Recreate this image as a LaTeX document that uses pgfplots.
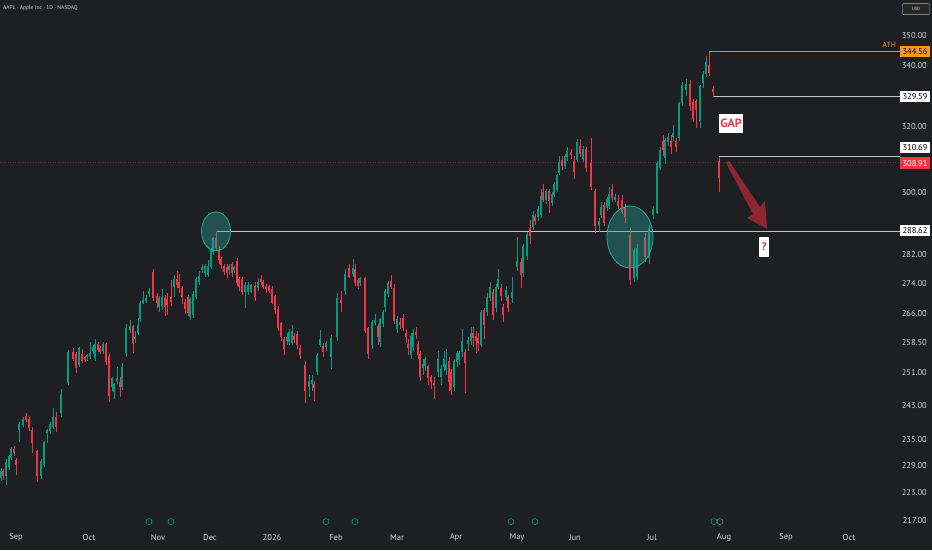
\documentclass[border=0pt]{standalone}
\usepackage{pgfplots}
\pgfplotsset{compat=1.18}
\usepackage{pgfplotstable}
\usetikzlibrary{arrows.meta}
\usepackage{fontspec}
\setmainfont{PT Sans}
\definecolor{bgc}{HTML}{1E1F23}
\definecolor{up}{HTML}{089981}
\definecolor{dn}{HTML}{F23645}
\definecolor{txt}{HTML}{D1D4DC}
\definecolor{lvl}{HTML}{C4C4C4}
\definecolor{athc}{HTML}{F0891C}
\definecolor{athbox}{HTML}{F79A1E}
\definecolor{arrc}{HTML}{962832}
\definecolor{tealc}{HTML}{26A69A}
\definecolor{pline}{HTML}{6A2A33}

\pgfplotstableread{
x o h l c
1 226.3 228.5 225.5 227.6
3 227.4 228.2 225.8 226.6
6 226.6 230.4 224.7 229.6
9 228.7 231.5 228.0 230.8
11 230.8 233.3 230.2 232.6
14 232.6 233.5 231.2 231.9
16 230.0 230.8 226.9 229.2
19 237.2 239.0 234.4 238.4
23 238.4 240.2 237.8 239.6
26 240.1 241.2 239.0 239.6
29 239.4 240.2 237.0 237.7
32 237.0 238.0 231.8 234.2
37 232.1 232.6 225.4 226.6
41 226.6 230.4 226.0 229.8
44 229.1 234.6 228.8 234.2
47 236.5 237.5 234.2 237.0
50 236.9 239.0 236.2 238.2
53 238.0 242.5 237.5 240.0
56 240.0 241.5 236.8 237.8
61 241.2 247.0 240.2 245.6
68 248.4 256.6 248.0 256.0
73 256.0 257.3 253.8 254.5
76 255.5 256.3 251.0 252.2
79 253.0 257.5 252.5 257.0
82 255.5 257.0 253.3 254.0
85 254.7 255.2 253.7 254.2
87 254.8 255.8 254.0 255.1
90 255.0 258.8 254.5 255.6
93 256.4 258.0 255.6 257.2
95 254.6 259.5 254.0 258.0
98 257.8 258.8 256.2 256.8
100 257.0 257.8 255.6 256.3
103 256.4 258.8 255.8 258.0
106 257.8 258.5 253.0 253.7
109 254.9 255.8 243.9 245.3
112 247.4 250.0 246.5 249.4
114 246.3 248.5 244.5 247.9
117 249.0 252.5 248.2 249.4
120 248.4 250.0 245.0 247.6
122 247.6 253.5 246.8 252.2
126 255.9 263.5 255.0 262.1
130 261.8 264.5 261.0 262.6
133 262.6 263.2 256.0 258.6
135 259.5 261.5 258.5 259.8
138 261.1 265.0 260.5 262.9
140 264.7 269.5 264.0 268.6
143 269.0 272.0 268.5 269.3
146 269.3 271.0 268.8 269.8
149 271.4 273.0 270.5 271.9
153 277.0 278.0 269.5 270.2
157 270.5 271.5 267.5 268.9
159 267.9 270.8 266.5 270.0
162 268.0 272.5 267.0 270.2
165 270.0 271.0 265.5 267.9
167 269.7 271.5 265.8 268.4
171 270.2 275.0 268.0 269.2
174 273.2 276.5 270.5 275.1
177 275.1 277.5 272.8 273.7
179 274.3 276.8 271.5 272.9
182 272.7 273.5 268.5 270.5
185 268.9 270.0 266.0 267.3
188 270.2 271.0 265.5 266.3
190 265.3 270.5 264.5 269.7
193 265.8 272.0 265.0 271.0
196 270.5 276.0 270.0 275.1
199 274.6 277.5 273.8 275.9
202 277.8 279.5 277.0 278.3
205 277.0 279.5 276.0 278.6
208 276.5 280.5 276.0 278.6
211 278.6 284.0 278.0 283.3
213 282.7 287.0 282.0 286.5
216 286.5 288.6 283.0 284.0
219 283.3 284.5 279.5 280.6
221 280.6 281.5 278.0 279.2
224 278.6 279.5 276.5 277.3
227 278.3 279.5 275.5 277.0
229 277.8 279.5 276.5 278.6
232 279.2 280.0 276.0 277.0
234 277.8 279.0 277.0 278.3
237 280.0 281.0 273.5 274.3
239 275.1 276.0 272.0 273.2
242 275.1 276.0 271.0 271.9
245 271.9 274.5 267.5 273.5
248 271.9 274.5 271.0 273.5
251 271.9 274.0 271.5 273.5
255 273.2 274.5 269.5 270.5
258 272.9 275.5 272.0 274.3
261 275.1 276.5 273.8 274.6
263 274.3 275.0 272.5 273.2
266 273.2 274.0 271.5 272.7
269 273.2 273.8 271.5 272.1
272 272.4 273.5 268.5 269.0
275 270.5 271.0 266.0 267.1
278 267.1 268.0 261.5 262.3
281 263.4 264.0 259.0 260.0
284 259.3 260.0 255.5 256.9
287 259.0 261.0 258.0 259.8
289 258.8 262.0 258.0 261.0
292 258.6 263.0 258.0 261.3
294 260.0 261.0 258.5 259.3
297 260.5 261.5 257.0 258.0
300 256.9 258.0 254.5 255.5
305 252.7 254.0 243.6 246.5
309 247.5 250.5 245.0 248.7
312 248.2 250.5 246.5 249.0
314 248.0 249.0 244.0 247.3
317 251.2 256.0 250.5 255.2
320 258.0 261.8 257.5 259.3
323 257.4 258.5 255.0 256.2
326 257.4 259.0 256.5 258.3
331 255.0 260.5 252.0 259.5
337 260.0 271.5 259.0 270.0
341 269.4 272.0 266.5 268.9
345 272.1 278.0 271.0 276.4
349 278.1 279.5 275.5 276.0
353 276.6 280.8 276.0 278.1
355 277.8 279.5 273.5 274.3
358 274.8 275.5 272.5 273.5
360 274.3 276.0 273.5 275.3
365 275.3 276.0 261.0 261.5
368 262.1 262.5 254.5 255.7
372 258.0 264.5 257.0 263.7
375 263.7 266.0 263.0 264.2
378 262.6 263.5 258.0 260.0
380 258.8 265.0 257.5 264.4
383 263.4 267.0 262.5 266.1
385 267.9 272.5 266.5 271.9
388 271.4 274.8 270.5 274.0
391 274.6 276.5 272.5 273.2
394 272.7 274.0 263.5 264.2
397 262.1 265.5 261.0 264.4
400 263.7 265.0 262.0 263.2
403 264.7 266.0 261.5 262.3
406 260.8 262.0 258.5 260.0
408 258.0 259.5 255.5 257.2
411 255.5 261.0 254.5 260.0
413 257.4 262.0 256.5 260.8
416 261.0 262.5 259.5 260.5
418 258.0 259.0 254.5 255.5
420 255.5 256.5 249.0 250.0
423 252.2 254.5 250.5 252.9
425 252.7 255.0 251.5 254.2
428 252.4 253.0 248.0 249.7
431 249.7 250.5 247.0 248.7
434 248.1 250.0 244.5 247.9
438 251.2 256.5 250.0 254.2
441 250.0 253.0 248.0 251.7
444 252.4 256.5 251.5 254.2
446 251.7 257.0 250.5 252.9
449 253.7 255.0 246.5 248.7
451 251.0 252.0 245.5 246.8
454 247.5 254.5 246.5 253.7
457 253.7 256.5 252.5 255.7
459 254.2 256.5 253.0 255.7
462 256.2 262.0 255.0 258.8
465 255.9 257.0 246.1 253.5
468 258.3 260.0 256.5 259.0
471 259.0 262.5 258.0 260.8
473 260.8 262.5 257.5 259.8
476 260.0 261.5 256.0 259.0
478 259.5 261.0 256.5 258.6
481 258.0 267.0 257.5 266.3
484 266.6 267.5 259.5 263.1
487 266.6 271.5 265.5 270.2
490 270.2 274.5 269.5 272.9
493 271.6 272.5 264.5 265.8
496 267.6 274.0 266.5 272.9
498 273.2 278.0 272.5 275.1
501 272.7 274.0 269.5 270.8
503 267.6 268.5 264.0 265.8
506 270.5 273.5 269.5 272.1
508 270.2 271.0 266.5 267.6
512 270.2 275.9 269.0 271.4
517 278.6 287.0 277.5 280.0
521 279.7 281.0 273.0 276.4
523 277.0 285.0 276.0 284.1
527 281.7 288.5 280.5 287.6
530 289.3 291.9 285.0 287.3
533 289.9 294.5 289.0 293.0
535 292.7 293.5 290.5 291.6
538 292.7 296.0 291.5 294.8
541 293.4 301.0 292.5 298.6
543 299.8 302.5 297.0 297.7
546 297.7 301.0 296.5 300.1
549 300.1 301.0 294.0 297.4
552 296.8 300.0 296.0 299.2
554 299.2 303.0 298.5 302.1
557 300.6 305.5 300.0 304.8
559 305.7 311.0 305.0 308.7
562 309.4 311.0 306.5 307.9
565 307.9 311.5 307.0 310.6
567 310.6 313.5 309.5 312.2
571 311.9 313.0 310.0 311.3
574 309.1 311.0 304.0 306.0
577 309.7 316.0 309.0 314.8
580 313.6 316.0 310.5 311.5
583 310.0 314.0 309.0 312.7
586 312.7 313.5 306.0 307.2
591 308.4 316.4 300.5 301.5
595 300.0 301.0 288.0 290.2
599 290.4 292.5 288.5 291.3
601 293.4 297.0 292.5 295.4
604 296.0 297.0 290.0 291.0
607 295.4 298.5 294.5 297.7
609 296.0 301.5 295.0 299.2
612 300.6 302.5 297.0 298.3
615 297.7 299.5 297.0 298.3
618 297.1 299.0 295.0 296.0
622 297.4 299.0 293.5 294.2
625 295.4 296.5 291.0 292.7
630 287.3 289.5 273.8 275.1
634 275.5 284.0 274.5 283.0
637 276.0 285.0 275.0 283.6
645 286.7 288.0 280.0 281.4
649 281.1 290.5 279.5 289.3
653 293.4 296.0 292.0 294.8
657 294.0 309.5 293.5 308.5
660 307.2 313.5 306.5 312.4
663 315.1 317.5 311.0 312.7
665 310.3 316.5 308.5 315.4
668 315.1 318.0 314.0 316.4
671 315.1 317.5 311.5 313.6
673 316.8 320.5 315.5 317.7
676 315.1 316.5 312.0 313.6
679 316.5 328.0 315.5 327.3
682 327.6 334.5 326.5 333.1
686 331.8 335.5 330.0 333.5
690 333.5 335.0 325.0 326.6
693 327.6 329.0 321.5 322.4
696 327.9 329.0 319.5 325.3
700 321.8 333.5 319.5 332.7
703 334.0 338.0 332.5 336.7
706 337.0 343.0 336.0 340.8
709 339.8 344.56 336.5 337.5
713 331.9 333.0 329.6 331.2
719 308.9 310.69 300.0 304.2
}\candles

\pgfplotsset{
  candle/.style n args={2}{draw=none, mark=none, forget plot,
    error bars/y dir=plus, error bars/y explicit, error bars/error mark=none,
    error bars/error bar style={line width=#2, draw=#1, solid}},
}

\begin{document}
\begin{tikzpicture}
\path[use as bounding box, fill=bgc] (0pt,-22pt) rectangle (932pt,528pt);
\begin{axis}[
  at={(0pt,0pt)}, anchor=south west,
  scale only axis, width=900pt, height=528pt,
  xmin=0, xmax=900, ymode=log, ymin=215.35, ymax=362.66,
  hide axis, clip=false,
]
% current price line
\addplot[pline, line width=0.6pt, dash pattern=on 1pt off 1.5pt] coordinates {(0,308.91) (900,308.91)};
% level lines
\addplot[lvl, line width=1pt] coordinates {(216,288.62) (900,288.62)};
\addplot[lvl, line width=1pt] coordinates {(713,329.59) (900,329.59)};
\addplot[lvl, line width=1pt] coordinates {(719,310.69) (900,310.69)};
\addplot[athc, line width=1pt] coordinates {(709,344.56) (900,344.56)};

% wicks
\addplot[candle={up}{0.8pt},
  x filter/.expression={\thisrow{c}>=\thisrow{o} ? x : nan}]
  table[x=x, y=l, y error expr=\thisrow{h}-\thisrow{l}] {\candles};
\addplot[candle={dn}{0.8pt},
  x filter/.expression={\thisrow{c}<\thisrow{o} ? x : nan}]
  table[x=x, y=l, y error expr=\thisrow{h}-\thisrow{l}] {\candles};
% bodies
\addplot[candle={up}{2.9pt},
  x filter/.expression={\thisrow{c}>=\thisrow{o} ? x : nan}]
  table[x=x, y expr={min(\thisrow{o},\thisrow{c})}, y error expr={abs(\thisrow{c}-\thisrow{o})+0.3}] {\candles};
\addplot[candle={dn}{2.9pt},
  x filter/.expression={\thisrow{c}<\thisrow{o} ? x : nan}]
  table[x=x, y expr={min(\thisrow{o},\thisrow{c})}, y error expr={abs(\thisrow{c}-\thisrow{o})+0.3}] {\candles};

% circles
\draw[tealc, line width=0.8pt, fill=tealc, fill opacity=0.38] (axis cs:216,288.6) ellipse [x radius=14.5pt, y radius=19.5pt];
\draw[tealc, line width=0.8pt, fill=tealc, fill opacity=0.38] (axis cs:630,287.0) ellipse [x radius=23pt, y radius=31pt];

% arrow (tapered shaft with head)
\fill[arrc, opacity=0.92] (axis cs:726,308.8) -- (axis cs:753,293.6) -- (axis cs:747,292.4) -- (axis cs:767,289.3) -- (axis cs:765,297.4) -- (axis cs:760,295.6) -- (axis cs:729,309.4) -- cycle;

% GAP and ? labels
\node[fill=white, text=dn, font=\fontsize{12}{13}\selectfont\bfseries, inner sep=0pt, minimum width=24pt, minimum height=19pt] at (axis cs:731,321.0) {GAP};
\node[fill=white, text=dn, font=\fontsize{11}{12}\selectfont\bfseries, inner sep=0pt, minimum width=10pt, minimum height=20pt] at (axis cs:764,284.2) {?};

% ATH text
\node[anchor=south east, text=athc, font=\fontsize{7.5}{8}\selectfont, inner sep=1pt] at (axis cs:897,345.6) {ATH};

% price scale labels
\node[anchor=east, text=txt, font=\fontsize{8.5}{9}\selectfont, inner sep=0pt] at (axis cs:927,350) {350.00};
\node[anchor=east, text=txt, font=\fontsize{8.5}{9}\selectfont, inner sep=0pt] at (axis cs:927,340) {340.00};
\node[anchor=east, text=txt, font=\fontsize{8.5}{9}\selectfont, inner sep=0pt] at (axis cs:927,320) {320.00};
\node[anchor=east, text=txt, font=\fontsize{8.5}{9}\selectfont, inner sep=0pt] at (axis cs:927,300) {300.00};
\node[anchor=east, text=txt, font=\fontsize{8.5}{9}\selectfont, inner sep=0pt] at (axis cs:927,282) {282.00};
\node[anchor=east, text=txt, font=\fontsize{8.5}{9}\selectfont, inner sep=0pt] at (axis cs:927,274) {274.00};
\node[anchor=east, text=txt, font=\fontsize{8.5}{9}\selectfont, inner sep=0pt] at (axis cs:927,266) {266.00};
\node[anchor=east, text=txt, font=\fontsize{8.5}{9}\selectfont, inner sep=0pt] at (axis cs:927,258.5) {258.50};
\node[anchor=east, text=txt, font=\fontsize{8.5}{9}\selectfont, inner sep=0pt] at (axis cs:927,251) {251.00};
\node[anchor=east, text=txt, font=\fontsize{8.5}{9}\selectfont, inner sep=0pt] at (axis cs:927,243) {243.00};
\node[anchor=east, text=txt, font=\fontsize{8.5}{9}\selectfont, inner sep=0pt] at (axis cs:927,235) {235.00};
\node[anchor=east, text=txt, font=\fontsize{8.5}{9}\selectfont, inner sep=0pt] at (axis cs:927,229) {229.00};
\node[anchor=east, text=txt, font=\fontsize{8.5}{9}\selectfont, inner sep=0pt] at (axis cs:927,223) {223.00};
\node[anchor=east, text=txt, font=\fontsize{8.5}{9}\selectfont, inner sep=0pt] at (axis cs:927,217) {217.00};

% price boxes
\node[fill=athbox, text=black, font=\fontsize{8.5}{9}\selectfont, inner sep=0pt, minimum width=30pt, minimum height=11pt] at (axis cs:915,344.56) {344.56};
\node[fill=white, text=black, font=\fontsize{8.5}{9}\selectfont, inner sep=0pt, minimum width=30pt, minimum height=11pt] at (axis cs:915,329.59) {329.59};
\node[fill=white, text=black, font=\fontsize{8.5}{9}\selectfont, inner sep=0pt, minimum width=30pt, minimum height=11pt] at (axis cs:915,313.5) {310.69};
\node[fill=dn, text=white, font=\fontsize{8.5}{9}\selectfont, inner sep=0pt, minimum width=30pt, minimum height=12pt] at (axis cs:915,308.7) {308.91};
\node[fill=white, text=black, font=\fontsize{8.5}{9}\selectfont, inner sep=0pt, minimum width=30pt, minimum height=11pt] at (axis cs:915,288.7) {288.62};

% title and currency
\node[anchor=west, text=txt, font=\fontsize{5.5}{6}\selectfont, inner sep=0pt] at (axis cs:3,359.8) {AAPL · Apple Inc · 1D · NASDAQ};
\node[draw=gray!60, fill=black!85, text=txt, font=\fontsize{4.5}{5}\selectfont, inner sep=0pt, minimum width=27pt, minimum height=11pt, rounded corners=1pt] at (axis cs:916,359.4) {USD};

% event icons
\draw[up, line width=0.6pt, fill=bgc] (axis cs:149,216.7) circle (3pt);
\draw[up, line width=0.6pt, fill=bgc] (axis cs:171,216.7) circle (3pt);
\draw[up, line width=0.6pt, fill=bgc] (axis cs:326,216.7) circle (3pt);
\draw[up, line width=0.6pt, fill=bgc] (axis cs:355,216.7) circle (3pt);
\draw[up, line width=0.6pt, fill=bgc] (axis cs:511,216.7) circle (3pt);
\draw[up, line width=0.6pt, fill=bgc] (axis cs:535,216.7) circle (3pt);
\draw[up, line width=0.6pt, fill=bgc] (axis cs:714,216.7) circle (3pt);
\draw[gray, line width=0.6pt, fill=bgc] (axis cs:720,216.7) circle (3pt);

% month labels
\node[text=txt, font=\fontsize{8.5}{9}\selectfont] at (axis cs:16,213.4) {Sep};
\node[text=txt, font=\fontsize{8.5}{9}\selectfont] at (axis cs:89,213.4) {Oct};
\node[text=txt, font=\fontsize{8.5}{9}\selectfont] at (axis cs:158,213.4) {Nov};
\node[text=txt, font=\fontsize{8.5}{9}\selectfont] at (axis cs:210,213.4) {Dec};
\node[text=txt, font=\fontsize{8.5}{9}\selectfont] at (axis cs:272,213.4) {2026};
\node[text=txt, font=\fontsize{8.5}{9}\selectfont] at (axis cs:336,213.4) {Feb};
\node[text=txt, font=\fontsize{8.5}{9}\selectfont] at (axis cs:397,213.4) {Mar};
\node[text=txt, font=\fontsize{8.5}{9}\selectfont] at (axis cs:456,213.4) {Apr};
\node[text=txt, font=\fontsize{8.5}{9}\selectfont] at (axis cs:517,213.4) {May};
\node[text=txt, font=\fontsize{8.5}{9}\selectfont] at (axis cs:575,213.4) {Jun};
\node[text=txt, font=\fontsize{8.5}{9}\selectfont] at (axis cs:652,213.4) {Jul};
\node[text=txt, font=\fontsize{8.5}{9}\selectfont] at (axis cs:724,213.4) {Aug};
\node[text=txt, font=\fontsize{8.5}{9}\selectfont] at (axis cs:786,213.4) {Sep};
\node[text=txt, font=\fontsize{8.5}{9}\selectfont] at (axis cs:849,213.4) {Oct};
\end{axis}
\end{tikzpicture}
\end{document}
